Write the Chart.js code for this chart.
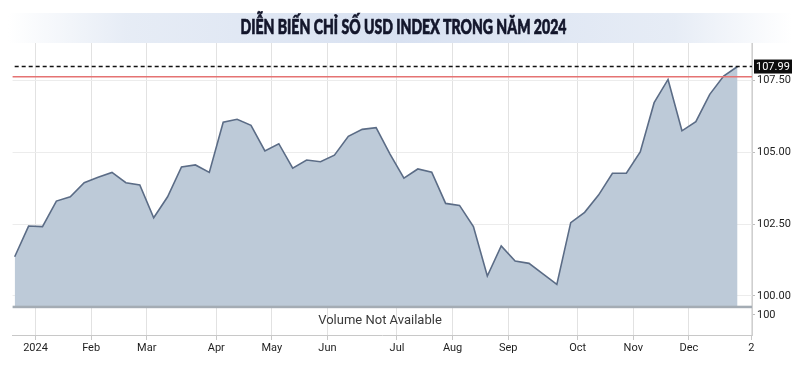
<!DOCTYPE html>
<html><head><meta charset="utf-8">
<script src="https://cdn.jsdelivr.net/npm/chart.js@4.4.1/dist/chart.umd.min.js"></script>
<style>html,body{margin:0;padding:0;background:#fff;overflow:hidden}#wrap{width:800px;height:366px}</style>
</head><body><div id="wrap"><canvas id="c" width="800" height="366"></canvas></div>
<script>
const TITLE = "DIỄN BIẾN CHỈ SỐ USD INDEX TRONG NĂM 2024";
const weekIndex = [0,1,2,3,4,5,6,7,8,9,10,11,12,13,14,15,16,17,18,19,20,21,22,23,24,25,26,27,28,29,30,31,32,33,34,35,36,37,38,39,40,41,42,43,44,45,46,47,48,49,50,51,52];
const usdIndex = [101.36,102.43,102.41,103.30,103.45,103.94,104.13,104.30,103.94,103.86,
  102.72,103.45,104.49,104.56,104.30,106.05,106.15,105.94,105.05,105.30,
  104.45,104.73,104.67,104.90,105.56,105.80,105.86,104.94,104.10,104.42,
  104.31,103.22,103.15,102.41,100.69,101.74,101.21,101.13,100.76,100.40,
  102.55,102.91,103.51,104.27,104.27,105.01,106.73,107.54,105.75,106.07,
  107.02,107.66,107.99];
const monthTickPos = [1.5,5.5,9.5,14.5,18.5,22.5,27.5,31.5,35.5,40.5,44.5,48.5,53];
const monthTickLabels = ["2024","Feb","Mar","Apr","May","Jun","Jul","Aug","Sep","Oct","Nov","Dec","2"];
const priceTicks = [100,102.5,105,107.5];
const volumeTicks = [100];
const lastValue = 107.99;
const redLineValue = 107.63;
const volumeText = "Volume Not Available";

const LBL = 'Roboto, "Liberation Sans", sans-serif';

const overlay = {
  id: 'overlay',
  beforeDraw(chart) {
    const ctx = chart.ctx;
    ctx.save();
    ctx.fillStyle = '#fff';
    ctx.fillRect(0, 0, chart.width, chart.height);
    const g = ctx.createLinearGradient(8, 0, 792, 0);
    g.addColorStop(0, 'rgba(226,233,244,0)');
    g.addColorStop(0.15, 'rgba(226,233,244,0.85)');
    g.addColorStop(0.5, '#d8e1f1');
    g.addColorStop(0.85, 'rgba(226,233,244,0.85)');
    g.addColorStop(1, 'rgba(226,233,244,0)');
    ctx.fillStyle = g;
    ctx.fillRect(8, 13, 784, 30);
    ctx.font = '900 20px Lato, "Open Sans", sans-serif';
    const w = ctx.measureText(TITLE).width;
    const target = 326;
    ctx.translate(403.5, 28);
    ctx.scale(target / w, 1);
    ctx.fillStyle = '#13162b';
    ctx.strokeStyle = '#13162b';
    ctx.lineWidth = 0.7;
    ctx.textAlign = 'center';
    ctx.textBaseline = 'middle';
    ctx.fillText(TITLE, 0, 0);
    ctx.strokeText(TITLE, 0, 0);
    ctx.restore();
  },
  afterDatasetsDraw(chart) {
    const {ctx, chartArea: ca, scales: {x, y, y2}} = chart;
    ctx.save();
    ctx.fillStyle = '#a4acb4';
    ctx.fillRect(ca.left, y.bottom - 1, ca.right - ca.left, 2.5);
    const ry = y.getPixelForValue(redLineValue);
    ctx.strokeStyle = '#e57373';
    ctx.lineWidth = 1.5;
    ctx.beginPath(); ctx.moveTo(ca.left, ry); ctx.lineTo(ca.right, ry); ctx.stroke();
    const ly = y.getPixelForValue(lastValue);
    ctx.strokeStyle = '#111';
    ctx.lineWidth = 1.5;
    ctx.setLineDash([4, 3]);
    ctx.beginPath(); ctx.moveTo(x.getPixelForValue(0), ly); ctx.lineTo(ca.right, ly); ctx.stroke();
    ctx.setLineDash([]);
    ctx.fillStyle = '#3a3a3a';
    ctx.font = '13px Roboto, sans-serif';
    ctx.textAlign = 'center';
    ctx.textBaseline = 'middle';
    ctx.fillText(volumeText, 380, (y2.top + y2.bottom) / 2);
    ctx.restore();
  },
  afterDraw(chart) {
    const {ctx, chartArea: ca, scales: {y}} = chart;
    const ly = y.getPixelForValue(lastValue);
    ctx.save();
    ctx.fillStyle = '#0d0d0d';
    ctx.fillRect(ca.right + 2, ly - 7, 38, 14);
    ctx.fillStyle = '#fff';
    ctx.font = '11px ' + LBL;
    ctx.textAlign = 'left';
    ctx.textBaseline = 'middle';
    ctx.fillText(lastValue.toFixed(2), ca.right + 4, ly + 0.5);
    ctx.restore();
  }
};

new Chart(document.getElementById('c'), {
  type: 'line',
  data: {
    datasets: [{
      data: weekIndex.map((w, i) => ({x: w, y: usdIndex[i]})),
      borderColor: '#5b6c86',
      borderWidth: 1.6,
      backgroundColor: '#bdcad8',
      fill: 'start',
      pointRadius: 0,
      tension: 0,
      yAxisID: 'y'
    }]
  },
  options: {
    responsive: false,
    animation: false,
    devicePixelRatio: 1,
    layout: {padding: {top: 43, left: 12.6, right: 0, bottom: 0}},
    plugins: {legend: {display: false}, tooltip: {enabled: false}, title: {display: false}},
    scales: {
      x: {
        type: 'linear', min: -0.15, max: 53.04,
        afterBuildTicks: s => { s.ticks = monthTickPos.map(v => ({value: v})); },
        afterFit: s => { s.height = 31; },
        ticks: {autoSkip: false, maxRotation: 0, padding: 2, color: '#1e1e1e',
          font: {family: LBL, size: 11},
          callback: (v, i) => monthTickLabels[i]},
        grid: {color: '#e2e2e2', tickLength: 5, tickColor: '#c8c8c8'},
        border: {color: '#c8c8c8'}
      },
      y: {
        type: 'linear', position: 'right', stack: 'p', stackWeight: 263.7,
        min: 99.62, max: 108.81,
        afterBuildTicks: s => { s.ticks = priceTicks.map(v => ({value: v})); },
        afterFit: s => { s.width = 48; },
        ticks: {padding: 2, color: '#1e1e1e', font: {family: LBL, size: 11},
          callback: v => Number(v).toFixed(2)},
        grid: {color: '#ececec', tickLength: 3, tickColor: '#bdbdbd'},
        border: {color: '#cfcfcf'}
      },
      y2: {
        type: 'linear', position: 'right', stack: 'p', stackWeight: 28.3,
        min: 0, max: 141,
        afterBuildTicks: s => { s.ticks = volumeTicks.map(v => ({value: v})); },
        afterFit: s => { s.width = 48; },
        ticks: {padding: 2, color: '#1e1e1e', font: {family: LBL, size: 11},
          callback: v => String(v)},
        grid: {drawOnChartArea: false, tickLength: 3, tickColor: '#bdbdbd'},
        border: {color: '#cfcfcf'}
      }
    }
  },
  plugins: [overlay]
});
</script></body></html>
